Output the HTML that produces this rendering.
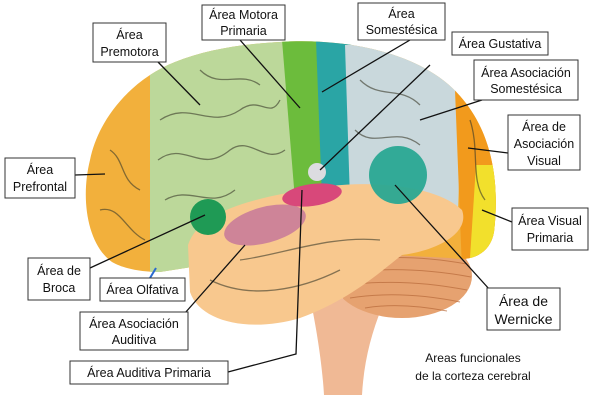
<!DOCTYPE html>
<html><head><meta charset="utf-8"><style>
html,body{margin:0;padding:0;background:#fff;}
svg{display:block;}
.l{font-family:"Liberation Sans",sans-serif;font-size:12.5px;fill:#111;text-anchor:middle;}
.b{fill:#fff;stroke:#333;stroke-width:1;}
.c{stroke:#111;stroke-width:1.3;fill:none;}
.g{stroke:#3a3a2a;stroke-width:1.3;fill:none;opacity:.6;}
</style></head><body>
<svg width="600" height="400" viewBox="0 0 600 400">
<defs>
<clipPath id="cer"><path d="M112,262 C88,245 80,200 90,160 C98,120 130,80 175,62 C205,50 240,44 280,42 C340,38 420,50 460,96 C492,132 500,182 494,232 C490,255 470,262 450,258 L300,250 L160,272 C140,272 122,268 112,262 Z"/></clipPath>
</defs>
<!-- brainstem -->
<path d="M308,288 C330,300 370,302 385,300 C372,330 364,360 362,395 L324,395 C322,360 315,320 308,288 Z" fill="#f0b995"/>
<!-- cerebellum -->
<ellipse cx="402" cy="276" rx="70" ry="42" fill="#e6a270"/>
<g stroke="#b86a3a" stroke-width="1" fill="none" opacity=".7">
<path d="M342,262 Q400,252 467,264"/><path d="M337,274 Q400,264 471,277"/><path d="M341,286 Q400,277 467,290"/><path d="M350,298 Q400,290 460,302"/><path d="M365,308 Q400,302 447,311"/>
</g>
<!-- cerebrum regions -->
<g clip-path="url(#cer)">
<rect x="0" y="0" width="600" height="400" fill="#f2b03c"/>
<path d="M150,40 L290,40 L300,200 L150,230 Z" fill="#bcd89a"/>
<path d="M150,200 L240,200 L250,280 L150,280 Z" fill="#bcd89a"/>
<path d="M282,40 L320,40 L325,195 L295,200 Z" fill="#6cbc3c"/>
<path d="M316,40 L352,40 L350,195 L322,198 Z" fill="#2aa5a5"/>
<path d="M345,45 L440,45 L462,100 L458,210 L350,200 Z" fill="#c9d8dc"/>
<path d="M455,90 L500,90 L500,270 L462,270 Z" fill="#f29a1c"/>
<path d="M476,165 L500,165 L500,260 L470,258 Z" fill="#f2e02c"/>
</g>
<!-- gyri -->
<g class="g">
<path d="M160,120 C190,100 210,130 240,110 C260,95 270,120 280,100"/>
<path d="M158,160 C185,140 200,175 230,150 C250,135 265,165 285,150"/>
<path d="M165,200 C190,185 210,210 235,190"/>
<path d="M200,70 C220,90 240,70 260,85"/>
<path d="M110,150 C125,160 120,180 140,190"/><path d="M100,210 C120,205 125,230 145,240"/>
<path d="M360,80 C380,100 400,85 420,105"/><path d="M355,130 C375,150 395,125 420,145"/>
<path d="M470,120 C480,150 470,180 485,200"/>
</g>
<!-- temporal lobe -->
<path d="M188,245 C200,208 262,196 330,186 C382,180 440,188 462,210 C470,232 440,250 402,255 C380,272 350,300 300,318 C250,333 200,322 190,292 Z" fill="#f8c88e"/>
<g class="g"><path d="M210,280 C250,300 300,290 340,270"/><path d="M240,260 C280,255 330,235 380,240"/></g>
<ellipse cx="265" cy="225" rx="42" ry="18" transform="rotate(-15 265 225)" fill="#c7789a" opacity=".85"/>
<ellipse cx="312" cy="195" rx="30" ry="11" transform="rotate(-8 312 195)" fill="#d8487a"/>
<circle cx="208" cy="217" r="18" fill="#1f9a55"/>
<circle cx="398" cy="175" r="29" fill="#2aa892" opacity=".95"/>
<circle cx="317" cy="172" r="9" fill="#dcdce0"/>
<!-- connectors -->
<g class="c">
<line x1="158" y1="62" x2="200" y2="105"/>
<line x1="240" y1="40" x2="300" y2="108"/>
<line x1="75" y1="175" x2="105" y2="174"/>
<line x1="410" y1="40" x2="322" y2="92"/>
<line x1="430" y1="65" x2="320" y2="170"/>
<line x1="482" y1="100" x2="420" y2="120"/>
<line x1="508" y1="153" x2="468" y2="148"/>
<line x1="512" y1="222" x2="482" y2="210"/>
<line x1="90" y1="268" x2="205" y2="215"/>
<line x1="185" y1="313" x2="245" y2="245"/>
<polyline points="228,372 296,354 302,190"/>
<line x1="490" y1="290" x2="395" y2="185"/>
</g>
<line x1="150" y1="278" x2="156" y2="268" stroke="#2a6ad0" stroke-width="2"/>
<!-- boxes -->
<rect class="b" x="93" y="23" width="73" height="39"/><text class="l" x="129.5" y="39">Área</text><text class="l" x="129.5" y="56">Premotora</text>
<rect class="b" x="202" y="5" width="83" height="35"/><text class="l" x="243.5" y="19">Área Motora</text><text class="l" x="243.5" y="35">Primaria</text>
<rect class="b" x="5" y="158" width="70" height="40"/><text class="l" x="40" y="174">Área</text><text class="l" x="40" y="191">Prefrontal</text>
<rect class="b" x="358" y="3" width="87" height="37"/><text class="l" x="401.5" y="18">Área</text><text class="l" x="401.5" y="34">Somestésica</text>
<rect class="b" x="452" y="32" width="96" height="23"/><text class="l" x="500" y="48">Área Gustativa</text>
<rect class="b" x="474" y="60" width="104" height="40"/><text class="l" x="526" y="77">Área Asociación</text><text class="l" x="526" y="93">Somestésica</text>
<rect class="b" x="508" y="115" width="72" height="55"/><text class="l" x="544" y="131">Área de</text><text class="l" x="544" y="148">Asociación</text><text class="l" x="544" y="165">Visual</text>
<rect class="b" x="512" y="208" width="76" height="42"/><text class="l" x="550" y="225">Área Visual</text><text class="l" x="550" y="242">Primaria</text>
<rect class="b" x="28" y="258" width="62" height="42"/><text class="l" x="59" y="275">Área de</text><text class="l" x="59" y="292">Broca</text>
<rect class="b" x="100" y="278" width="85" height="23"/><text class="l" x="142.5" y="294">Área Olfativa</text>
<rect class="b" x="80" y="312" width="108" height="38"/><text class="l" x="134" y="328">Área Asociación</text><text class="l" x="134" y="344">Auditiva</text>
<rect class="b" x="70" y="361" width="158" height="23"/><text class="l" x="149" y="377">Área Auditiva Primaria</text>
<rect class="b" x="487" y="288" width="73" height="42"/><text class="l" x="523.5" y="306" style="font-size:14px">Área de</text><text class="l" x="523.5" y="324" style="font-size:14px">Wernicke</text>
<text class="l" x="473" y="362" style="font-size:12px">Areas funcionales</text>
<text class="l" x="473" y="380" style="font-size:12px">de la corteza cerebral</text>
</svg>
</body></html>
